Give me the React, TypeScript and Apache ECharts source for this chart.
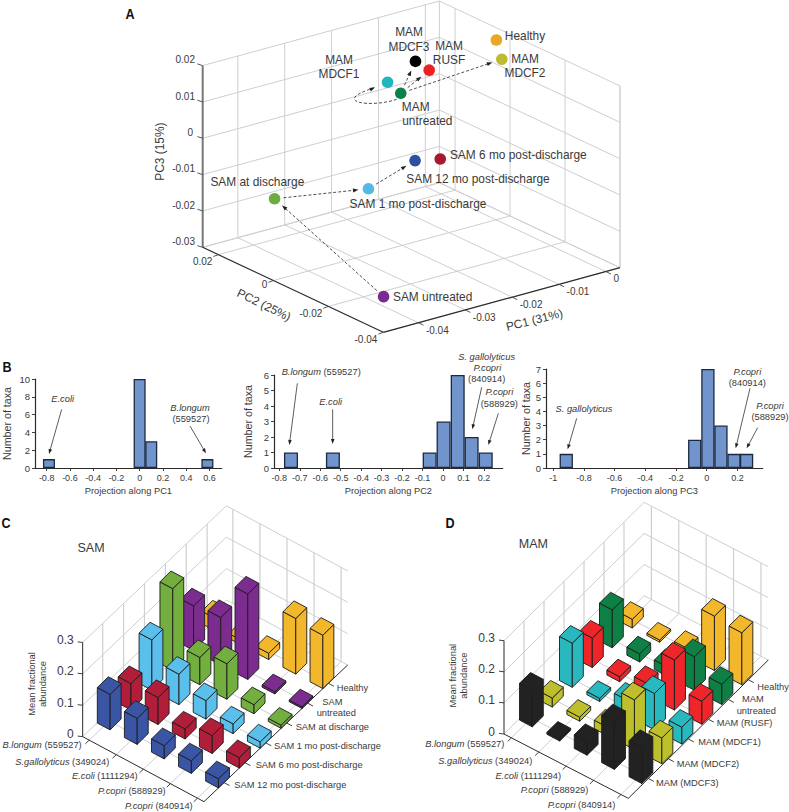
import React, { useEffect, useRef } from "react";
import * as echarts from "echarts";

const FONT = "'Liberation Sans', Arial, sans-serif";
const TXT = "#3a3a3a";
const GRID = "#cfcfcf";
const DARK = "#2b2b2b";

// ---------- Panel A data ----------
const sampleNames = ["Healthy","MAM MDCF2","MAM MDCF3","MAM RUSF","MAM MDCF1","MAM untreated","SAM 6 mo","SAM 12 mo","SAM 1 mo","SAM at discharge","SAM untreated"];
const pc1Values = [-0.0005,-0.0011,-0.0092,-0.0078,-0.0148,-0.0141,-0.0099,-0.0148,-0.0271,-0.0395,-0.0414];
const pc2Values = [-0.001,-0.004,0.0136,0.011,0.0142,0.0106,0.0034,0.0042,0.0002,0.0132,-0.0297];
const pc3Values = [0.02,0.016,0.012,0.01,0.008,0.006,-0.011,-0.01,-0.012,-0.015,-0.026];
const sampleColors = ["#E8A825","#BDBB32","#000000","#ED2024","#21B5BC","#0B8247","#A6192E","#2F4FA2","#55B9E8","#6FAC3E","#7A2A90"];
const arrowFrom = [10,9,8,5,5,5];
const arrowTo = [9,8,7,2,3,1];
const pc1Ticks = [-0.04,-0.03,-0.02,-0.01,0];
const pc2Ticks = [0.02,0,-0.02,-0.04];
const pc3Ticks = [-0.03,-0.02,-0.01,0,0.01,0.02];

// ---------- Panel B data ----------
const pc1BinCenters = [-0.78,0,0.1,0.583];
const pc1BinCounts = [1,10,3,1];
const pc2BinCenters = [-0.743,-0.538,-0.065,0.003,0.072,0.14,0.209];
const pc2BinCounts = [1,1,1,3,6,2,1];
const pc3BinCenters = [-0.915,-0.078,0.008,0.093,0.178,0.26];
const pc3BinCounts = [1,2,7,3,1,1];
const pc1XTicks = [-0.8,-0.6,-0.4,-0.2,0,0.2,0.4,0.6];
const pc2XTicks = [-0.8,-0.7,-0.6,-0.5,-0.4,-0.3,-0.2,-0.1,0,0.1,0.2];
const pc3XTicks = [-1,-0.8,-0.6,-0.4,-0.2,0,0.2];

// ---------- Panels C / D data ----------
const speciesNames = ["B.longum","S.gallolyticus","E.coli","P.copri","P.copri"];
const speciesIds = ["(559527)","(349024)","(1111294)","(588929)","(840914)"];
const zTicks = [0,0.1,0.2,0.3];

const sam12Mo = [0.113,0.083,0.042,0.04,0.029];
const sam6Mo = [0.084,0.086,0.032,0.057,0.033];
const sam1Mo = [0.16,0.097,0.059,0.031,0.02];
const samDischarge = [0.26,0.087,0.113,0.029,0.01];
const samUntreated = [0.142,0.151,0.272,0.007,0.005];
const healthyC = [0.04,0.015,0.02,0.177,0.17];
const samRows = [sam12Mo,sam6Mo,sam1Mo,samDischarge,samUntreated,healthyC];
const samColors = ["#3B55A5","#B01E3A","#5BBFEC","#72AF3E","#7B2C8E","#F3B72B"];

const mamMdcf3 = [0.118,0.006,0.044,0.153,0.116];
const mamMdcf2 = [0.029,0.013,0.027,0.16,0.083];
const mamMdcf1 = [0.142,0.01,0.05,0.117,0.054];
const mamRusf = [0.095,0.016,0.04,0.161,0.074];
const mamUntreated = [0.122,0.026,0.03,0.108,0.065];
const healthyD = [0.028,0.007,0.026,0.175,0.167];
const mamRows = [mamMdcf3,mamMdcf2,mamMdcf1,mamRusf,mamUntreated,healthyD];
const mamColors = ["#222222","#BDBF2C","#28B8BE","#EE2529","#0E8046","#F3B72B"];

type P = [number, number];
const add = (a: P, b: P, k = 1): P => [a[0] + b[0] * k, a[1] + b[1] * k];
const lineEl = (a: P, b: P, stroke = GRID, lineWidth = 1, extra: any = {}) => ({
  type: "line",
  shape: { x1: a[0], y1: a[1], x2: b[0], y2: b[1] },
  style: { stroke, lineWidth, ...extra },
});
const headEl = (tip: P, from: P, len = 5, half = 1.8, fill = "#222") => {
  const dx = tip[0] - from[0], dy = tip[1] - from[1];
  const d = Math.hypot(dx, dy) || 1;
  const ux = dx / d, uy = dy / d;
  const b: P = [tip[0] - ux * len, tip[1] - uy * len];
  return {
    type: "polygon",
    shape: { points: [tip, [b[0] - uy * half, b[1] + ux * half], [b[0] + uy * half, b[1] - ux * half]] },
    style: { fill, stroke: "none" },
  };
};

// ---------- Panel A projection ----------
const aL: P = [202.7, 247.3], aF: P = [383.3, 332.3], aR: P = [620, 267.7];
const PC1_MIN = -0.0475, PC1_MAX = 0.003, PC2_MIN = -0.04, PC2_MAX = 0.0257, PC3_MIN = -0.03, PC3_MAX = 0.02;
const A_ZK = 181.7 / 0.05;
const projA = (a: number, b: number, c: number): P => {
  const ta = (a - PC1_MIN) / (PC1_MAX - PC1_MIN), tb = (b - PC2_MIN) / (PC2_MAX - PC2_MIN);
  return [
    aF[0] + ta * (aR[0] - aF[0]) + tb * (aL[0] - aF[0]),
    aF[1] + ta * (aR[1] - aF[1]) + tb * (aL[1] - aF[1]) - (c - PC3_MIN) * A_ZK,
  ];
};

const renderFrameA = () => {
  const ch: any[] = [];
  pc3Ticks.forEach((z) => {
    ch.push(lineEl(projA(PC1_MIN, PC2_MAX, z), projA(PC1_MAX, PC2_MAX, z)));
    ch.push(lineEl(projA(PC1_MAX, PC2_MAX, z), projA(PC1_MAX, PC2_MIN, z)));
  });
  pc1Ticks.forEach((a) => {
    ch.push(lineEl(projA(a, PC2_MAX, PC3_MIN), projA(a, PC2_MAX, PC3_MAX)));
    ch.push(lineEl(projA(a, PC2_MIN, PC3_MIN), projA(a, PC2_MAX, PC3_MIN)));
  });
  pc2Ticks.forEach((b) => {
    ch.push(lineEl(projA(PC1_MAX, b, PC3_MIN), projA(PC1_MAX, b, PC3_MAX)));
    ch.push(lineEl(projA(PC1_MIN, b, PC3_MIN), projA(PC1_MAX, b, PC3_MIN)));
  });
  ch.push(lineEl(projA(PC1_MAX, PC2_MAX, PC3_MIN), projA(PC1_MAX, PC2_MAX, PC3_MAX)));
  ch.push(lineEl(projA(PC1_MAX, PC2_MIN, PC3_MIN), projA(PC1_MAX, PC2_MIN, PC3_MAX)));
  ch.push(lineEl(projA(PC1_MIN, PC2_MAX, PC3_MIN), projA(PC1_MAX, PC2_MAX, PC3_MIN)));
  ch.push(lineEl(projA(PC1_MAX, PC2_MIN, PC3_MIN), projA(PC1_MAX, PC2_MAX, PC3_MIN)));
  ch.push(lineEl(projA(PC1_MIN, PC2_MAX, PC3_MIN), projA(PC1_MIN, PC2_MAX, PC3_MAX), "#777", 2));
  ch.push(lineEl(projA(PC1_MIN, PC2_MAX, PC3_MIN), projA(PC1_MIN, PC2_MIN, PC3_MIN), DARK, 1.2));
  ch.push(lineEl(projA(PC1_MIN, PC2_MIN, PC3_MIN), projA(PC1_MAX, PC2_MIN, PC3_MIN), DARK, 1.2));
  pc3Ticks.forEach((z) => {
    const p = projA(PC1_MIN, PC2_MAX, z);
    ch.push(lineEl(p, add(p, [-5.3, -1.7]), "#444", 0.9));
    ch.push({ type: "text", x: 195 + (z === 0 ? -2 : 0), y: p[1] - 5.7, style: { text: String(z), align: "right", verticalAlign: "middle", fontSize: 10, fontFamily: FONT, fill: TXT } });
  });
  pc1Ticks.forEach((a) => {
    const p = projA(a, PC2_MIN, PC3_MIN);
    ch.push(lineEl(p, add(p, [5, 2.5]), "#444", 0.9));
    ch.push({ type: "text", x: p[0] + 7.5, y: p[1] + 7.3, style: { text: String(a), align: "left", verticalAlign: "middle", fontSize: 10, fontFamily: FONT, fill: TXT } });
  });
  pc2Ticks.forEach((b) => {
    const p = projA(PC1_MIN, b, PC3_MIN);
    ch.push(lineEl(p, add(p, [-5, 1.8]), "#444", 0.9));
    ch.push({ type: "text", x: p[0] - 6, y: p[1] + (b === 0 ? 3.5 : 7.3), style: { text: String(b), align: "right", verticalAlign: "middle", fontSize: 10, fontFamily: FONT, fill: TXT } });
  });
  return { type: "group", children: ch };
};

const renderArrowA = (_: any, api: any) => {
  const a = projA(api.value(0), api.value(1), api.value(2));
  const b = projA(api.value(3), api.value(4), api.value(5));
  const d = Math.hypot(b[0] - a[0], b[1] - a[1]) || 1;
  const u: P = [(b[0] - a[0]) / d, (b[1] - a[1]) / d];
  const s = add(a, u, 9), e = add(b, u, -10);
  return {
    type: "group",
    children: [
      lineEl(s, add(e, u, -3), "#222", 0.8, { lineDash: [3, 2] }),
      headEl(e, s, 5.5, 2),
    ],
  };
};

const renderPointA = (params: any, api: any) => {
  const p = projA(api.value(0), api.value(1), api.value(2));
  return { type: "circle", shape: { cx: p[0], cy: p[1], r: 5.8 }, style: { fill: sampleColors[params.dataIndex], stroke: "none" } };
};

// ---------- Panels C / D projection ----------
type Cfg = { L: P; F: P; R: P; k: number; sm: number; t0: number; t1: number; colors: string[]; uS: P; uT: P };
const mkCfg = (L: P, F: P, R: P, k: number, sm: number, t0: number, t1: number, colors: string[]): Cfg => {
  const uS: P = [(L[0] - F[0]) / (4 + 2 * sm), (L[1] - F[1]) / (4 + 2 * sm)];
  const uT: P = [(R[0] - F[0]) / (5 + t0 + t1), (R[1] - F[1]) / (5 + t0 + t1)];
  return { L, F, R, k, sm, t0, t1, colors, uS, uT };
};
const zc = (x: number, y: number): P => [x / 3, 510 + y / 3];
const zd = (x: number, y: number): P => [400 + x / 3, 510 + y / 3];
const cfgC = mkCfg(zc(248, 680), zc(612, 875), zc(1043, 465), 314, 0.24, 0.96, 0.92, samColors);
const cfgD = mkCfg(zd(312, 672), zd(685, 865), zd(1105, 450), 311, 0.27, 1, 1, mamColors);

const projB = (c: Cfg, s: number, t: number, z: number): P => {
  const p = add(add(c.F, c.uS, 4 + c.sm - s), c.uT, t + c.t0);
  return [p[0], p[1] - z * c.k];
};

const renderFrameBars = (c: Cfg) => () => {
  const ch: any[] = [];
  const sMin = -c.sm, sMax = 4 + c.sm, tMin = -c.t0, tMax = 5 + c.t1;
  zTicks.forEach((z) => {
    if (z > 0) {
      ch.push(lineEl(projB(c, sMin, tMin, z), projB(c, sMin, tMax, z)));
      ch.push(lineEl(projB(c, sMin, tMax, z), projB(c, sMax, tMax, z)));
    }
  });
  [0, 1, 2, 3, 4].forEach((s) => {
    ch.push(lineEl(projB(c, s, tMax, 0), projB(c, s, tMax, 0.3), GRID, 1.2));
    ch.push(lineEl(projB(c, s, tMin, 0), projB(c, s, tMax, 0)));
  });
  [0, 1, 2, 3, 4, 5].forEach((t) => {
    ch.push(lineEl(projB(c, sMin, t, 0), projB(c, sMin, t, 0.3), GRID, 1.2));
    ch.push(lineEl(projB(c, sMin, t, 0), projB(c, sMax, t, 0)));
  });
  ch.push(lineEl(projB(c, sMin, tMin, 0), projB(c, sMin, tMax, 0)));
  ch.push(lineEl(projB(c, sMin, tMax, 0), projB(c, sMax, tMax, 0)));
  ch.push(lineEl(projB(c, sMin, tMin, 0), projB(c, sMin, tMin, 0.3), DARK, 1));
  ch.push(lineEl(projB(c, sMin, tMin, 0), projB(c, sMax, tMin, 0), DARK, 1));
  ch.push(lineEl(projB(c, sMax, tMin, 0), projB(c, sMax, tMax, 0), DARK, 1));
  zTicks.forEach((z) => {
    const p = projB(c, sMin, tMin, z);
    ch.push(lineEl(p, add(p, [-5, -0.6]), DARK, 0.9));
    ch.push({ type: "text", x: p[0] - 9, y: p[1] - 2.5, style: { text: String(z), align: "right", verticalAlign: "middle", fontSize: 12, fontFamily: FONT, fill: TXT } });
  });
  [0, 1, 2, 3, 4].forEach((s) => {
    const p = projB(c, s, tMin, 0);
    ch.push(lineEl(p, add(p, c.uT, -0.18), DARK, 0.9));
  });
  [0, 1, 2, 3, 4, 5].forEach((t) => {
    const p = projB(c, sMax, t, 0);
    ch.push(lineEl(p, add(p, c.uS, -0.2), DARK, 0.9));
  });
  return { type: "group", children: ch };
};

const renderBar = (c: Cfg) => (_: any, api: any) => {
  const s = api.value(0), t = api.value(1), v = api.value(2);
  const fill = c.colors[t];
  const base = projB(c, s, t, 0);
  const hS: P = [6.4, 3.4], hT: P = [5.5, -5.4];
  const corner = (o: P, a: number, b: number): P => [o[0] + a * hS[0] + b * hT[0], o[1] + a * hS[1] + b * hT[1]];
  const top: P = [base[0], base[1] - v * c.k];
  const st = { fill, stroke: "#1b1b1b", lineWidth: 0.9, lineJoin: "round" };
  const poly = (pts: P[]) => ({ type: "polygon", shape: { points: pts }, style: st });
  return {
    type: "group",
    children: [
      poly([corner(top, -1, -1), corner(top, 1, -1), corner(base, 1, -1), corner(base, -1, -1)]),
      poly([corner(top, 1, -1), corner(top, 1, 1), corner(base, 1, 1), corner(base, 1, -1)]),
      poly([corner(top, -1, -1), corner(top, 1, -1), corner(top, 1, 1), corner(top, -1, 1)]),
    ],
  };
};

const barData = (rows: number[][]) => {
  const out: number[][] = [];
  rows.forEach((row, t) => row.forEach((v, s) => out.push([s, t, v])));
  return out.sort((a, b) => (b[1] - a[1]) || (a[0] - b[0]));
};

// ---------- Text helpers ----------
const LABEL_SIZE = 9.3;
const txt = (text: string, p: P, o: any = {}) => ({
  type: "text",
  x: p[0], y: p[1],
  rotation: o.rotation || 0,
  scaleX: o.scaleX || 1,
  z: 20,
  style: {
    text,
    align: o.align || "center",
    verticalAlign: "middle",
    textAlign: o.align || "center",
    fontSize: o.size || LABEL_SIZE,
    fontFamily: o.family || FONT,
    fontStyle: o.italic ? "italic" : "normal",
    fontWeight: o.bold ? "bold" : "normal",
    fill: o.fill || TXT,
    rich: o.rich,
  },
});
const za = (x: number, y: number): P => [120 + x / 3, y / 3];
const zb1 = (x: number, y: number): P => [x / 3, 350 + y / 3];
const zb2 = (x: number, y: number): P => [400 + x / 3, 350 + y / 3];
const annArrow = (a: P, b: P) => [
  { ...lineEl(a, add(b, [(a[0] - b[0]) / Math.hypot(a[0] - b[0], a[1] - b[1]), (a[1] - b[1]) / Math.hypot(a[0] - b[0], a[1] - b[1])], 3), "#333", 0.8), z: 20 },
  { ...headEl(b, a, 5, 1.8, "#222"), z: 20 },
];
const richLabel = (name: string, id: string, p: P, align: string, size = LABEL_SIZE) =>
  txt(`{i|${name}} {n|${id}}`, p, {
    align,
    size,
    rich: {
      i: { fontStyle: "italic", fontSize: size, fontFamily: FONT, fill: TXT },
      n: { fontSize: size, fontFamily: FONT, fill: TXT },
    },
  });

const buildGraphic = () => {
  const g: any[] = [];
  const S = 11.9;
  const deg = Math.PI / 180;
  // letters
  const letter = { size: 15, bold: true, scaleX: 0.84, fill: "#111" };
  g.push(txt("A", za(30, 42), letter), txt("B", [7, 367], letter), txt("C", [6, 523], letter), txt("D", [450, 523], letter));
  // panel A labels
  const a: [string, number, number][] = [
    ["Healthy", 1215, 108], ["MAM", 1215, 177], ["MDCF2", 1215, 218], ["MAM", 867, 97], ["MDCF3", 867, 140],
    ["MAM", 987, 138], ["RUSF", 987, 181], ["MAM", 657, 180], ["MDCF1", 657, 222], ["MAM", 887, 320], ["untreated", 922, 362],
    ["SAM 6 mo post-discharge", 1195, 466], ["SAM 12 mo post-discharge", 1074, 537], ["SAM 1 mo post-discharge", 894, 611],
    ["SAM at discharge", 412, 547], ["SAM untreated", 938, 891],
  ];
  a.forEach(([t, x, y]) => g.push(txt(t, za(x, y), { size: S })));
  g.push(txt("PC3 (15%)", za(120, 455), { size: S, rotation: 90 * deg }));
  g.push(txt("PC2 (25%)", za(432, 915), { size: S, rotation: -26 * deg }));
  g.push(txt("PC1 (31%)", za(1243, 960), { size: S, rotation: 14 * deg }));
  // dashed curve untreated -> MDCF1
  const p0 = za(830, 298), c1 = za(750, 325), c2 = za(630, 305), p3 = za(765, 262);
  g.push({ type: "bezierCurve", z: 5, shape: { x1: p0[0], y1: p0[1], cpx1: c1[0], cpy1: c1[1], cpx2: c2[0], cpy2: c2[1], x2: p3[0] - 1, y2: p3[1] + 0.6 }, style: { stroke: "#222", lineWidth: 0.8, lineDash: [3, 2], fill: "none" } });
  g.push({ ...headEl(p3, za(715, 286), 5.5, 2), z: 5 });
  // panel B annotations
  g.push(txt("E.coli", zb1(188, 147), { italic: true }), txt("B.longum", zb1(570, 173), { italic: true }), txt("(559527)", zb1(573, 207)));
  g.push(richLabel("B.longum", "(559527)", zb1(845, 67), "left"));
  g.push(txt("E.coli", zb1(992, 157), { italic: true }));
  g.push(txt("S. gallolyticus", zb2(260, 20), { italic: true }), txt("P.copri", zb2(262, 55), { italic: true }), txt("(840914)", zb2(260, 87)));
  g.push(txt("P.copri", zb2(298, 127), { italic: true }), txt("(588929)", zb2(298, 162)));
  g.push(txt("S. gallolyticus", zb2(552, 177), { italic: true }));
  g.push(txt("P.copri", zb2(1042, 65), { italic: true }), txt("(840914)", zb2(1042, 98)));
  g.push(txt("P.copri", zb2(1110, 167), { italic: true }), txt("(588929)", zb2(1110, 200)));
  const arrows: [P, P][] = [
    [zb1(185, 178), zb1(147, 312)], [zb1(570, 228), zb1(618, 310)],
    [zb1(892, 100), zb1(868, 285)], [zb1(998, 178), zb1(998, 282)],
    [zb2(245, 112), zb2(217, 238)], [zb2(295, 190), zb2(265, 285)],
    [zb2(530, 205), zb2(503, 298)], [zb2(1050, 115), zb2(1007, 295)], [zb2(1073, 233), zb2(1040, 295)],
  ];
  arrows.forEach(([p, q]) => g.push(...annArrow(p, q)));
  // panel C text
  g.push(txt("SAM", zc(273, 115), { size: 12.5 }));
  g.push(txt("Mean fractional", zc(97, 522), { rotation: 90 * deg }), txt("abundance", zc(130, 522), { rotation: 90 * deg }));
  const cY = [705, 755, 797, 842, 888], cX = [245, 328, 413, 497, 578];
  speciesNames.forEach((n, i) => g.push(richLabel(n, speciesIds[i], zc(cX[i], cY[i]), "right")));
  const cStates: [string, number, number][] = [
    ["Healthy", 1010, 533], ["SAM", 967, 577], ["untreated", 950, 610], ["SAM at discharge", 887, 651],
    ["SAM 1 mo post-discharge", 822, 707], ["SAM 6 mo post-discharge", 767, 766], ["SAM 12 mo post-discharge", 703, 825],
  ];
  cStates.forEach(([t, x, y]) => g.push(txt(t, zc(x, y), { align: "left" })));
  // panel D text
  g.push(txt("MAM", zd(400, 103), { size: 12.5 }));
  g.push(txt("Mean fractional", zd(160, 497), { rotation: 90 * deg }), txt("abundance", zd(193, 497), { rotation: 90 * deg }));
  const dY = [703, 752, 797, 840, 885], dX = [313, 397, 483, 565, 646];
  speciesNames.forEach((n, i) => g.push(richLabel(n, speciesIds[i], zd(dX[i], dY[i]), "right")));
  const dStates: [string, number, number][] = [
    ["Healthy", 1072, 532], ["MAM", 1026, 568], ["untreated", 1010, 602], ["MAM (RUSF)", 950, 640],
    ["MAM (MDCF1)", 895, 697], ["MAM (MDCF2)", 830, 762], ["MAM (MDCF3)", 768, 818],
  ];
  dStates.forEach(([t, x, y]) => g.push(txt(t, zd(x, y), { align: "left" })));
  return g;
};

// ---------- Histograms ----------
const HIST_GRIDS = [
  { left: 34.3, top: 379, width: 187.4, height: 89 },
  { left: 274, top: 375, width: 228.7, height: 93 },
  { left: 546, top: 369, width: 216.7, height: 99 },
];
const axisCommon = {
  axisLine: { show: true, onZero: false, lineStyle: { color: DARK, width: 1.2 } },
  axisTick: { show: true, length: 3, lineStyle: { color: DARK, width: 0.9 } },
  splitLine: { show: false },
  nameTextStyle: { fontSize: 9.3, fontFamily: FONT, color: TXT },
};
const xAxisOf = (gridIndex: number, min: number, max: number, ticks: number[], name: string) => ({
  ...axisCommon,
  type: "value", gridIndex, min, max, name, nameLocation: "middle", nameGap: 18,
  axisTick: { ...axisCommon.axisTick, customValues: ticks },
  axisLabel: { customValues: ticks, fontSize: 9, fontFamily: FONT, color: TXT, margin: 5, formatter: (v: number) => String(Number(v.toFixed(2))) },
});
const yAxisOf = (gridIndex: number, max: number, interval: number, gap: number) => ({
  ...axisCommon,
  type: "value", gridIndex, min: 0, max, interval, name: "Number of taxa", nameLocation: "middle", nameGap: gap,
  nameTextStyle: { fontSize: 10.7, fontFamily: FONT, color: TXT },
  axisLabel: { fontSize: 9.5, fontFamily: FONT, color: TXT, margin: 5 },
});
const histSeries = (i: number, xs: number[], ys: number[], barWidth: number) => ({
  type: "bar", xAxisIndex: i, yAxisIndex: i, barWidth,
  data: xs.map((x, k) => [x, ys[k]]),
  itemStyle: { color: "#7094CB", borderColor: "#1C2A40", borderWidth: 1.3 },
});

export default function App() {
  const ref = useRef<HTMLDivElement>(null);
  useEffect(() => {
    const chart = echarts.init(ref.current!, undefined, { renderer: "svg" });
    const pcaData = sampleNames.map((name, i) => ({ name, value: [pc1Values[i], pc2Values[i], pc3Values[i]] }));
    const arrowData = arrowFrom.map((f, i) => {
      const t = arrowTo[i];
      return [pc1Values[f], pc2Values[f], pc3Values[f], pc1Values[t], pc2Values[t], pc3Values[t]];
    });
    chart.setOption({
      animation: false,
      backgroundColor: "#fff",
      grid: HIST_GRIDS,
      xAxis: [
        xAxisOf(0, -0.9, 0.706, pc1XTicks, "Projection along PC1"),
        xAxisOf(1, -0.826, 0.292, pc2XTicks, "Projection along PC2"),
        xAxisOf(2, -1.047, 0.365, pc3XTicks, "Projection along PC3"),
      ],
      yAxis: [yAxisOf(0, 10, 2, 23), yAxisOf(1, 6, 1, 21), yAxisOf(2, 7, 1, 15)],
      graphic: { elements: buildGraphic() },
      series: [
        histSeries(0, pc1BinCenters, pc1BinCounts, 12),
        histSeries(1, pc2BinCenters, pc2BinCounts, 14),
        histSeries(2, pc3BinCenters, pc3BinCounts, 13.3),
        { type: "custom", coordinateSystem: "none", silent: true, z: 1, data: [[0]], renderItem: renderFrameA },
        { type: "custom", coordinateSystem: "none", silent: true, z: 3, data: arrowData, renderItem: renderArrowA },
        { type: "custom", coordinateSystem: "none", silent: true, z: 4, data: pcaData, renderItem: renderPointA },
        { type: "custom", coordinateSystem: "none", silent: true, z: 1, data: [[0]], renderItem: renderFrameBars(cfgC) },
        { type: "custom", coordinateSystem: "none", silent: true, z: 2, data: barData(samRows), renderItem: renderBar(cfgC) },
        { type: "custom", coordinateSystem: "none", silent: true, z: 1, data: [[0]], renderItem: renderFrameBars(cfgD) },
        { type: "custom", coordinateSystem: "none", silent: true, z: 2, data: barData(mamRows), renderItem: renderBar(cfgD) },
      ],
    });
    return () => chart.dispose();
  }, []);
  return <div ref={ref} style={{ position: "absolute", left: 0, top: 0, width: 789, height: 812 }} />;
}
